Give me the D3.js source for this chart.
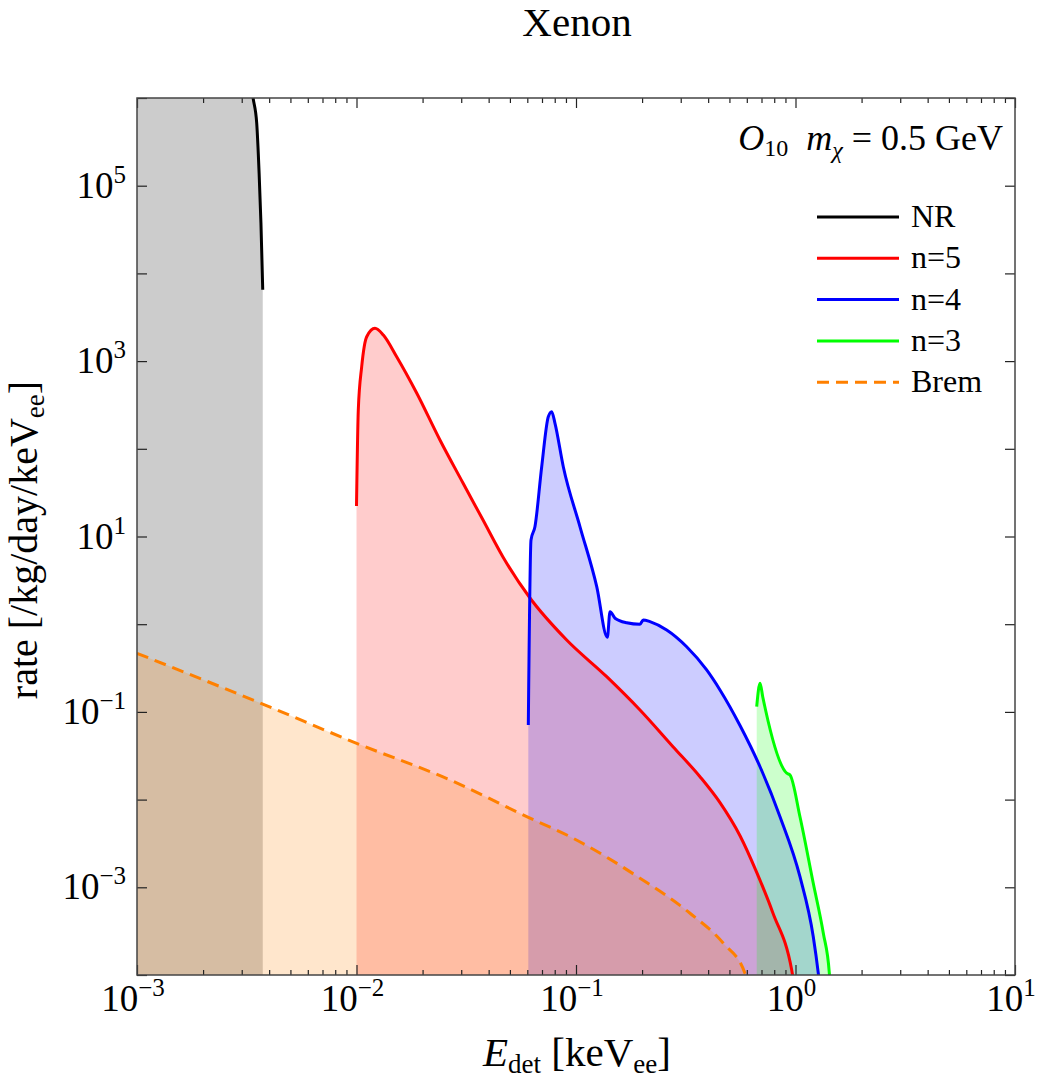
<!DOCTYPE html>
<html>
<head>
<meta charset="utf-8">
<title>Xenon</title>
<script src="https://cdn.jsdelivr.net/npm/d3@7"></script>
<style>
  body { margin: 0; background: #fff; }
  text { font-family: "Liberation Serif", "DejaVu Serif", serif; fill: #000; }
</style>
</head>
<body>
<script>
// curves: [E_det in keV_ee, rate]
var nrData = [
  [0.001, 1e12], [0.0030, 1e7], [0.00338, 1.0e6], [0.00351, 5.2e5],
  [0.00360, 1.40e5], [0.00367, 3.76e4], [0.00374, 6.5e3]
];
var n5Data = [
  [0.0100, 22.3], [0.01019, 277], [0.01056, 863], [0.01113, 1897], [0.01214, 2366],
  [0.01325, 1985], [0.01524, 1122], [0.0188, 433], [0.0240, 126], [0.03056, 40.7],
  [0.03771, 15.4], [0.04648, 5.84], [0.06172, 1.99], [0.0907, 0.660], [0.138, 0.252],
  [0.1957, 0.105], [0.2766, 0.0401], [0.3672, 0.01824], [0.4529, 0.00923],
  [0.5587, 0.00387], [0.6656, 0.00148], [0.7898, 5.07e-4], [0.961, 1.14e-4], [0.985, 8e-5]
];
var n4Data = [
  [0.06064, 0.0710], [0.06237, 9.12], [0.0650, 12.9], [0.06978, 62.5], [0.07478, 232],
  [0.0775, 265], [0.08022, 195], [0.08752, 62.5], [0.1043, 12.9], [0.1243, 2.68],
  [0.1389, 0.709], [0.1429, 1.39], [0.1506, 1.17], [0.1702, 1.04], [0.1957, 1.0],
  [0.2025, 1.12], [0.2173, 1.07], [0.2589, 0.859], [0.3193, 0.553], [0.3938, 0.301],
  [0.4529, 0.178], [0.5587, 0.0700], [0.6893, 0.0237], [0.850, 0.00638],
  [1.048, 1.32e-3], [1.205, 2.73e-4], [1.270, 1.05e-4], [1.286, 8e-5]
];
var n3Data = [
  [0.6656, 0.1146], [0.6893, 0.212], [0.709, 0.149], [0.912, 0.0200], [0.944, 0.0191],
  [1.048, 0.00638], [1.205, 1.11e-3], [1.339, 2.99e-4], [1.426, 1.05e-4], [1.436, 8e-5]
];
var bremData = [
  [0.001, 0.466], [0.00374, 0.123], [0.01002, 0.0438], [0.02667, 0.01675],
  [0.06064, 0.00628], [0.0972, 0.00362], [0.1957, 0.00127], [0.3307, 5.06e-4],
  [0.469, 2.30e-4], [0.589, 1.04e-4], [0.607, 8e-5]
];

var seriesNames = ["NR", "n=5", "n=4", "n=3", "Brem"];
var seriesColors = ["#000000", "#ff0000", "#0000ff", "#00ff00", "#ff8000"];
var seriesData = [nrData, n5Data, n4Data, n3Data, bremData];

var xDecades = [-3, -2, -1, 0, 1];      // labelled x ticks
var yDecades = [5, 3, 1, -1, -3];       // labelled y ticks

var width = 1042, height = 1086;
var plotLeft = 137, plotRight = 1015, plotTop = 98, plotBottom = 975;

var svg = d3.select("body").append("svg")
    .attr("width", width)
    .attr("height", height);

var x = d3.scaleLog().domain([1e-3, 1e1]).range([plotLeft, plotRight]);
var y = d3.scaleLog().domain([1e-4, 1e6]).range([plotBottom, plotTop]);

svg.append("defs").append("clipPath")
    .attr("id", "plot-clip")
  .append("rect")
    .attr("x", plotLeft).attr("y", plotTop)
    .attr("width", plotRight - plotLeft).attr("height", plotBottom - plotTop);

var body = svg.append("g").attr("clip-path", "url(#plot-clip)");

var area = d3.area()
    .curve(d3.curveMonotoneX)
    .x(function (d) { return x(d[0]); })
    .y0(plotBottom)
    .y1(function (d) { return y(d[1]); });

var line = d3.line()
    .curve(d3.curveMonotoneX)
    .x(function (d) { return x(d[0]); })
    .y(function (d) { return y(d[1]); });

// fills first, curves on top
seriesData.forEach(function (data, i) {
    body.append("path")
        .attr("d", area(data))
        .attr("fill", seriesColors[i])
        .attr("fill-opacity", 0.2);
});

[4, 0, 1, 2, 3].forEach(function (i) {
    body.append("path")
        .attr("d", line(seriesData[i]))
        .attr("fill", "none")
        .attr("stroke", seriesColors[i])
        .attr("stroke-width", 3)
        .attr("stroke-linejoin", "round")
        .attr("stroke-dasharray", i == 4 ? "12,7" : null);
});

// frame with inward ticks on every side
function isMajor(v) {
    var l = Math.log10(v);
    return Math.abs(l - Math.round(l)) < 1e-6;
}

function tickSide(axisFn, scale, transform) {
    var all = scale.ticks();
    var major = all.filter(isMajor), minor = all.filter(function (v) { return !isMajor(v); });
    [[minor, 5], [major, 10]].forEach(function (set) {
        var g = svg.append("g")
            .attr("transform", transform)
            .call(axisFn(scale).tickValues(set[0]).tickSize(-set[1]).tickFormat(""));
        g.select(".domain").remove();
        g.selectAll("line").attr("stroke", "#222").attr("stroke-width", 1.2);
    });
}

tickSide(d3.axisBottom, x, "translate(0," + plotBottom + ")");
tickSide(d3.axisTop, x, "translate(0," + plotTop + ")");
tickSide(d3.axisLeft, y, "translate(" + plotLeft + ",0)");
tickSide(d3.axisRight, y, "translate(" + plotRight + ",0)");

svg.append("rect")
    .attr("x", plotLeft).attr("y", plotTop)
    .attr("width", plotRight - plotLeft).attr("height", plotBottom - plotTop)
    .attr("fill", "none")
    .attr("stroke", "#444")
    .attr("stroke-width", 1.5);

// power-of-ten labels
function powerLabel(g, e) {
    g.append("tspan").text("10");
    g.append("tspan")
        .attr("dy", -15)
        .attr("font-size", 25)
        .text(e < 0 ? "\u2212" + (-e) : e);
}

xDecades.forEach(function (e) {
    var t = svg.append("text")
        .attr("x", x(Math.pow(10, e)) - 4)
        .attr("y", 1011)
        .attr("text-anchor", "middle")
        .attr("font-size", 37);
    powerLabel(t, e);
});

yDecades.forEach(function (e) {
    var t = svg.append("text")
        .attr("x", 126)
        .attr("y", y(Math.pow(10, e)) + 12)
        .attr("text-anchor", "end")
        .attr("font-size", 37);
    powerLabel(t, e);
});

// titles
svg.append("text")
    .attr("x", 577).attr("y", 36)
    .attr("text-anchor", "middle")
    .attr("font-size", 41)
    .text("Xenon");

var xl = svg.append("text")
    .attr("x", 577).attr("y", 1066)
    .attr("text-anchor", "middle")
    .attr("font-size", 41);
xl.append("tspan").attr("font-style", "italic").text("E");
xl.append("tspan").attr("font-size", 27).attr("dy", 7).text("det");
xl.append("tspan").attr("dy", -7).text(" [keV");
xl.append("tspan").attr("font-size", 27).attr("dy", 7).text("ee");
xl.append("tspan").attr("dy", -7).text("]");

var yl = svg.append("text")
    .attr("transform", "translate(37,540) rotate(-90)")
    .attr("text-anchor", "middle")
    .attr("font-size", 40);
yl.append("tspan").text("rate [/kg/day/keV");
yl.append("tspan").attr("font-size", 27).attr("dy", 7).text("ee");
yl.append("tspan").attr("dy", -7).text("]");

// operator / mass annotation
var note = svg.append("text")
    .attr("x", 1003).attr("y", 150)
    .attr("text-anchor", "end")
    .attr("font-size", 36);
note.append("tspan").attr("font-style", "italic").text("O");
note.append("tspan").attr("font-size", 24).attr("dy", 6).text("10");
note.append("tspan").attr("dy", -6).attr("font-style", "italic").text("\u2002m");
note.append("tspan").attr("font-size", 24).attr("dy", 8).attr("font-style", "italic").text("\u03c7");
note.append("tspan").attr("dy", -8).text(" = 0.5 GeV");

// legend
var legend = svg.append("g").attr("transform", "translate(817,217)");
seriesNames.forEach(function (name, i) {
    var row = legend.append("g").attr("transform", "translate(0," + (i * 41.3) + ")");
    row.append("line")
        .attr("x1", 0).attr("x2", 82)
        .attr("stroke", seriesColors[i])
        .attr("stroke-width", 3)
        .attr("stroke-dasharray", i == 4 ? "12,7" : null);
    row.append("text")
        .attr("x", 94).attr("y", 10)
        .attr("font-size", 32)
        .text(name);
});
</script>
</body>
</html>
